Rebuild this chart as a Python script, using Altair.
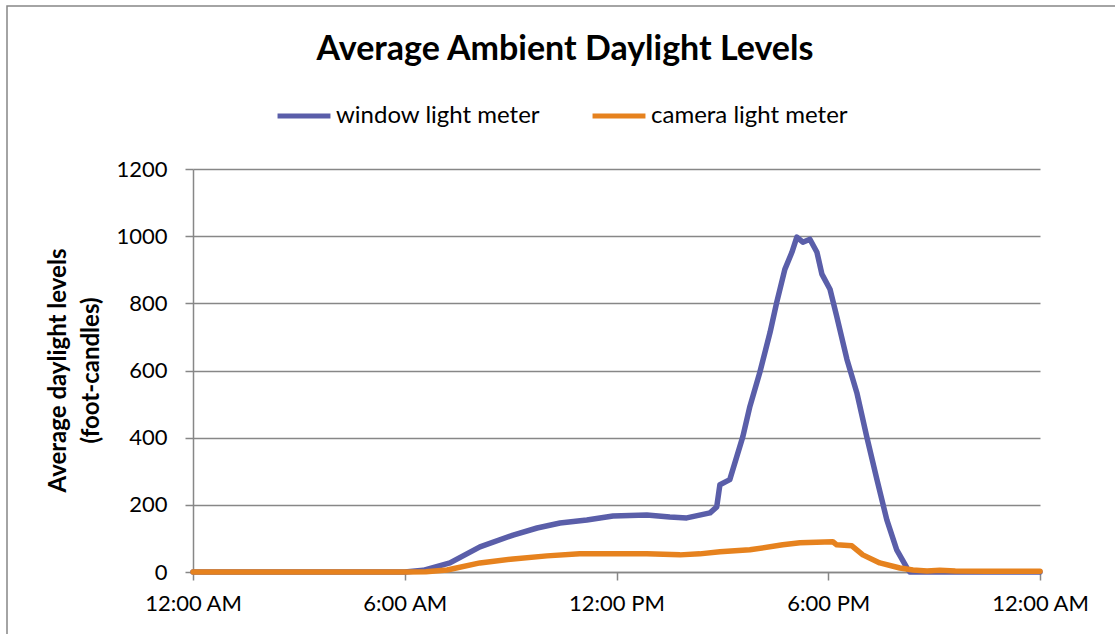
import altair as alt
import pandas as pd

# ---- data (hours since midnight, foot-candles) ----
window_hours = [0, 6.0, 6.52, 7.28, 8.13, 9.07, 9.75, 10.4, 11.16, 11.9, 12.86, 13.51, 13.99,
                14.65, 14.84, 14.93, 15.21, 15.58, 15.78, 16.06, 16.35, 16.54, 16.77, 16.97,
                17.11, 17.28, 17.48, 17.68, 17.82, 18.05, 18.24, 18.53, 18.81, 19.09, 19.38,
                19.66, 19.94, 20.23, 20.31, 24]
window_values = [0, 0, 5, 27, 75, 110, 131, 146, 155, 167, 170, 164, 161,
                 176, 194, 260, 275, 403, 493, 594, 713, 803, 901, 952,
                 997, 982, 991, 952, 887, 842, 761, 633, 534, 403, 275,
                 155, 66, 12, 0, 0]

camera_hours = [0, 6.0, 6.6, 7.2, 8.13, 9.07, 10.03, 10.96, 11.9, 12.86, 13.8, 14.36, 14.93,
                15.78, 16.71, 17.2, 18.13, 18.24, 18.67, 18.98, 19.46, 20.03, 20.4, 20.8,
                21.16, 21.6, 22.5, 24]
camera_values = [0, 0, 1, 6, 27, 39, 48, 54, 54, 54, 51, 54, 60,
                 66, 81, 87, 90, 81, 78, 51, 27, 12, 6, 3,
                 5, 3, 2, 2]

series_names = ["window light meter", "camera light meter"]
series_colors = ["#5A5EA9", "#E6821E"]
x_tick_values = [0, 6, 12, 18, 24]
x_tick_labels = ["12:00 AM", "6:00 AM", "12:00 PM", "6:00 PM", "12:00 AM"]
y_tick_values = [0, 200, 400, 600, 800, 1000, 1200]
title_text = "Average Ambient Daylight Levels"

FONT = "Lato"
GRID = "#878787"

win_df = pd.DataFrame({"hour": window_hours, "value": window_values, "series": series_names[0]})
cam_df = pd.DataFrame({"hour": camera_hours, "value": camera_values, "series": series_names[1]})

label_expr = " : ".join(
    f"datum.value == {v} ? '{l}'" for v, l in zip(x_tick_values, x_tick_labels)
) + " : ''"

x_enc = alt.X(
    "hour:Q",
    scale=alt.Scale(domain=[0, 24], nice=False, zero=False),
    axis=alt.Axis(values=x_tick_values, labelExpr=label_expr, title=None, grid=False,
                  labelFlush=False, labelOverlap=False,
                  tickSize=8, labelPadding=13, labelFontSize=22, labelFont=FONT,
                  labelColor="#000000", domainColor=GRID, tickColor=GRID,
                  domainWidth=1.5, tickWidth=1.5),
)
y_enc = alt.Y(
    "value:Q",
    scale=alt.Scale(domain=[0, 1200], nice=False),
    axis=alt.Axis(values=y_tick_values, format="d", labelFlush=False,
                  title=["Average daylight levels", "(foot-candles)"],
                  grid=True, gridColor=GRID, gridWidth=1.5, tickSize=8, labelPadding=18,
                  labelFontSize=22, labelFont=FONT, labelColor="#000000",
                  domainColor=GRID, tickColor=GRID, domainWidth=1.5, tickWidth=1.5,
                  titleFont=FONT, titleFontSize=24, titleFontWeight="bold",
                  titleColor="#000000", titleAngle=270, titleAlign="center",
                  titleBaseline="middle", titleX=-135, titleY=201, titleLineHeight=33,
                  titleLimit=0),
)
color_enc = alt.Color(
    "series:N",
    scale=alt.Scale(domain=series_names, range=series_colors),
    legend=alt.Legend(title=None, orient="none", direction="horizontal",
                      legendX=82, legendY=-82, symbolType="stroke",
                      symbolStrokeWidth=5, symbolSize=2800, labelFontSize=24,
                      labelFont=FONT, labelColor="#000000", labelOffset=3,
                      labelLimit=0, columnPadding=41, symbolOpacity=1),
)

line_style = dict(strokeWidth=5.5, strokeCap="round", strokeJoin="round")
blue = alt.Chart(win_df).mark_line(**line_style).encode(x=x_enc, y=y_enc, color=color_enc)
orange = alt.Chart(cam_df).mark_line(**line_style).encode(x=x_enc, y=y_enc, color=color_enc)

one_row = pd.DataFrame({"t": [title_text]})
border = alt.Chart(one_row).mark_rect(
    fill=None, stroke=GRID, strokeWidth=1.5).encode(
    x=alt.value(-186), x2=alt.value(1000), y=alt.value(-163), y2=alt.value(600))

title = alt.Chart(one_row).mark_text(
    font=FONT, fontSize=34, fontWeight="bold", color="#000000",
    align="center", baseline="middle").encode(
    text="t:N", x=alt.value(565 - 193), y=alt.value(50 - 169))

chart = alt.layer(border, title, blue, orange).properties(
    width=847, height=403,
    padding={"left": 193, "top": 169, "right": 75, "bottom": 62},
    autosize=alt.AutoSizeParams(type="none"),
    background="white",
).configure_view(stroke=None)

chart.save("out.html", embed_options={"renderer": "svg", "actions": False})
